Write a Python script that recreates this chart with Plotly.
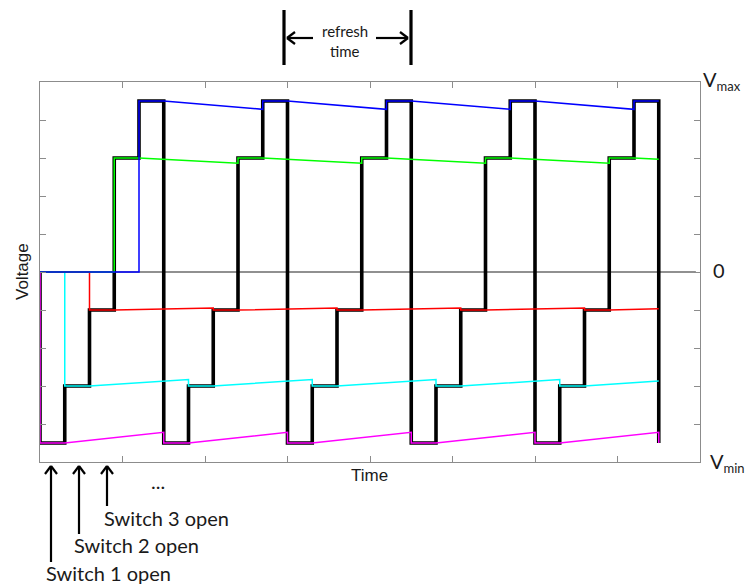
import plotly.graph_objects as go

# ---------------- data ----------------
levels         = [-4.5, -3.0, -1.0, 3.0, 4.5]        # held voltage of each switch / capacitor
droop_ends     = [-4.22, -2.83, -0.95, 2.86, 4.28]   # value reached just before the next refresh
end_values     = [-4.5, -2.87, -0.97, 2.97, 4.5]     # value where each trace ends (t = 7.5)
colors         = ["#ff00ff", "#00ffff", "#ff0000", "#00ff00", "#0000ff"]
switch_open    = [0.0, 0.3, 0.6, 0.9, 1.2]           # offset of each switch inside a refresh cycle
refresh_starts = [0.0, 1.5, 3.0, 4.5, 6.0]
hold_time      = 0.3
t_end          = 7.5
x_ticks        = [0, 1, 2, 3, 4, 5, 6, 7, 8]
y_ticks        = [-5, -4, -3, -2, -1, 0, 1, 2, 3, 4, 5]
zero_line_t    = [0.0, 7.95]
zero_line_v    = [0.0, 0.0]

FONT = "Lato"
TXT = "#1a1a1a"

fig = go.Figure()

# zero reference line
fig.add_trace(go.Scatter(x=zero_line_t, y=zero_line_v, mode="lines",
                         line=dict(color="#222222", width=1.2), hoverinfo="skip"))

# black output staircase
bx, by = [0.0], [0.0]
for s in refresh_starts:
    for i, L in enumerate(levels):
        t0 = s + switch_open[i]
        bx += [t0, t0 + hold_time]
        by += [L, L]
bx.append(t_end)
by.append(levels[0])
fig.add_trace(go.Scatter(x=bx, y=by, mode="lines",
                         line=dict(color="black", width=3.6), hoverinfo="skip"))

# coloured held voltages
for i, L in enumerate(levels):
    starts = [s + switch_open[i] for s in refresh_starts + [t_end]]
    starts = [t for t in starts if t <= t_end + 1e-9]
    x, y = [0.0], [0.0]
    t1 = 0.0
    for j, t0 in enumerate(starts):
        x.append(t0)
        y.append(0.0 if j == 0 else droop_ends[i])
        t1 = min(t0 + hold_time, t_end)
        x += [t0, t1]
        y += [L, L]
    if t1 < t_end - 1e-9:
        x.append(t_end)
        y.append(end_values[i])
    fig.add_trace(go.Scatter(x=x, y=y, mode="lines",
                             line=dict(color=colors[i], width=1.5), hoverinfo="skip"))

# ---------------- layout ----------------
L_PX, R_PX, T_PX, B_PX = 40, 700, 82, 462
W, H = 745, 584


def X(px):
    return (px - L_PX) / (R_PX - L_PX)


def Y(py):
    return (B_PX - py) / (B_PX - T_PX)


shapes = []


def seg(x0, y0, x1, y1, w=2.2, color="black"):
    shapes.append(dict(type="line", xref="paper", yref="paper",
                       x0=X(x0), y0=Y(y0), x1=X(x1), y1=Y(y1),
                       line=dict(color=color, width=w)))


def arrow(x0, y0, x1, y1, head=8, w=2.2):
    # line from (x0,y0) to tip (x1,y1) with open chevron head
    seg(x0, y0, x1, y1, w)
    dx, dy = x1 - x0, y1 - y0
    n = (dx * dx + dy * dy) ** 0.5
    ux, uy = dx / n, dy / n
    px_, py_ = -uy, ux
    for sgn in (1, -1):
        seg(x1, y1, x1 - ux * head + sgn * px_ * head * 0.75,
            y1 - uy * head + sgn * py_ * head * 0.75, w)


# refresh time marker
seg(284, 10, 284, 65, 3.2)
seg(411, 10, 411, 65, 3.2)
arrow(313, 38, 287, 38)
arrow(376, 38, 408, 38)

# switch arrows
arrow(51, 562, 51, 466)
arrow(79, 534, 79, 466)
arrow(107, 506, 107, 466)

annotations = []


def text(px, py, s, size, xanchor="left", yanchor="middle", angle=0, family=FONT):
    annotations.append(dict(xref="paper", yref="paper", x=X(px), y=Y(py), text=s,
                            showarrow=False, xanchor=xanchor, yanchor=yanchor,
                            textangle=angle, font=dict(family=family, size=size, color=TXT)))


SUB = "<sub><span style='font-size:13px'>{}</span></sub>"

text(345, 31, "refresh", 15, xanchor="center")
text(345, 51, "time", 15, xanchor="center")
text(102, 518, "Switch 3 open", 20)
text(72, 545, "Switch 2 open", 20)
text(44, 573, "Switch 1 open", 20)
text(158, 481, "...", 20, xanchor="center")
text(369, 476, "Time", 17, xanchor="center", family="Liberation Sans")
text(22, 272, "Voltage", 17, xanchor="center", angle=-90, family="Liberation Sans")
text(701, 80, "V" + SUB.format("max"), 20)
text(711, 270, "0", 20)
text(708, 463, "V" + SUB.format("min"), 20)

axis_common = dict(showline=True, mirror="ticks", linecolor="#8c8c8c", linewidth=1,
                   ticks="inside", ticklen=6, tickcolor="#8c8c8c", tickwidth=1,
                   showticklabels=False, showgrid=False, zeroline=False, fixedrange=True)

fig.update_layout(
    width=W, height=H,
    margin=dict(l=L_PX, r=W - R_PX, t=T_PX, b=H - B_PX, pad=0),
    paper_bgcolor="white", plot_bgcolor="white",
    showlegend=False,
    xaxis=dict(range=[x_ticks[0], x_ticks[-1]], tickvals=x_ticks, **axis_common),
    yaxis=dict(range=[y_ticks[0], y_ticks[-1]], tickvals=y_ticks, **axis_common),
    shapes=shapes,
    annotations=annotations,
)

fig.write_html("out.html", config={"displayModeBar": False},
               post_script="document.body.style.margin='0';document.body.style.overflow='hidden';")
